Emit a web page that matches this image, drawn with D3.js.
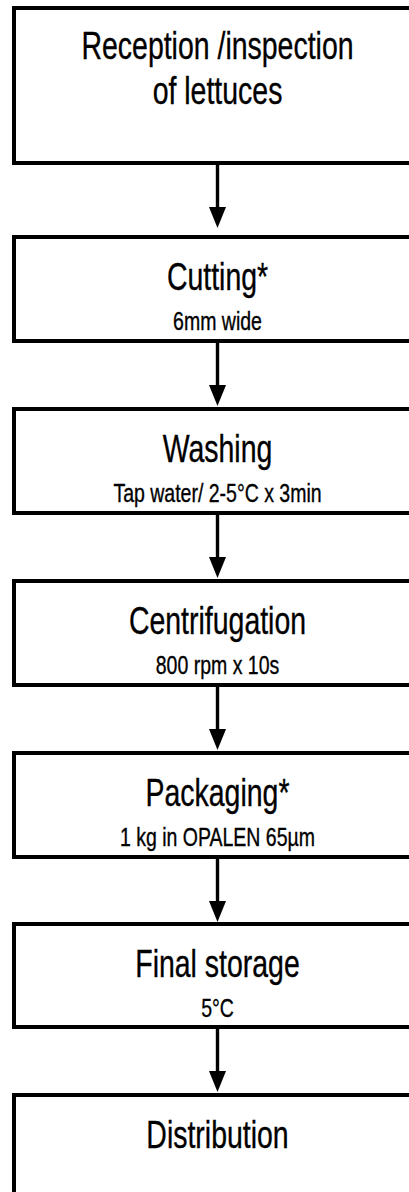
<!DOCTYPE html>
<html>
<head>
<meta charset="utf-8">
<script src="https://cdn.jsdelivr.net/npm/d3@7"></script>
<style>
  html, body { margin: 0; padding: 0; background: #fff; }
  svg { display: block; }
</style>
</head>
<body>
<script>
// ---- data ----
const steps = ["Reception /inspection", "Cutting*", "Washing", "Centrifugation", "Packaging*", "Final storage", "Distribution"];
const stepLine2 = ["of lettuces", "", "", "", "", "", ""];
const details = ["", "6mm wide", "Tap water/ 2-5°C x 3min", "800 rpm x 10s", "1 kg in OPALEN 65µm", "5°C", ""];

// ---- layout ----
const W = 409, H = 1192;
const boxTop =    [8, 237, 409, 581, 753, 924, 1095];
const boxBottom = [163, 341, 513, 685, 857, 1027, 1230];
const boxLeft = 14, boxRight = 421;
const cx = 217.5;

const svg = d3.select("body").append("svg").attr("width", W).attr("height", H);

const y = d3.scaleLinear().domain([0, H]).range([0, H]);
const idx = d3.range(steps.length);

// boxes
svg.selectAll("rect.box").data(idx).join("rect")
  .attr("class", "box")
  .attr("x", boxLeft)
  .attr("y", i => y(boxTop[i]))
  .attr("width", boxRight - boxLeft)
  .attr("height", i => y(boxBottom[i]) - y(boxTop[i]))
  .attr("fill", "#fff")
  .attr("stroke", "#000")
  .attr("stroke-width", 4);

// arrows
const arrows = d3.range(steps.length - 1);
const headStart = 44, headH = 21, headW = 8.5;
svg.selectAll("line.shaft").data(arrows).join("line")
  .attr("x1", cx).attr("x2", cx)
  .attr("y1", i => y(boxBottom[i]))
  .attr("y2", i => y(boxBottom[i]) + headStart + 1)
  .attr("stroke", "#000").attr("stroke-width", 3.4);
svg.selectAll("path.head").data(arrows).join("path")
  .attr("d", i => {
    const t0 = y(boxBottom[i]) + headStart;
    return `M${cx - headW},${t0} L${cx + headW},${t0} L${cx},${t0 + headH} Z`;
  })
  .attr("fill", "#000");

function addText(txt, yy, size, sx) {
  if (!txt) return;
  svg.append("g")
    .attr("transform", `translate(${cx},${yy}) scale(${sx},1)`)
    .append("text")
    .attr("text-anchor", "middle")
    .attr("font-family", "'Liberation Sans', Arial, sans-serif")
    .attr("font-size", size)
    .attr("fill", "#000")
    .attr("stroke", "#000")
    .attr("stroke-width", 0.35)
    .text(txt);
}

idx.forEach(i => {
  const top = y(boxTop[i]);
  if (stepLine2[i]) {
    addText(steps[i], top + 51, 39, 0.73);
    addText(stepLine2[i], top + 96, 39, 0.73);
  } else {
    addText(steps[i], top + 53, 39, 0.73);
  }
  addText(details[i], top + 93, 26, 0.75);
});
</script>
</body>
</html>
